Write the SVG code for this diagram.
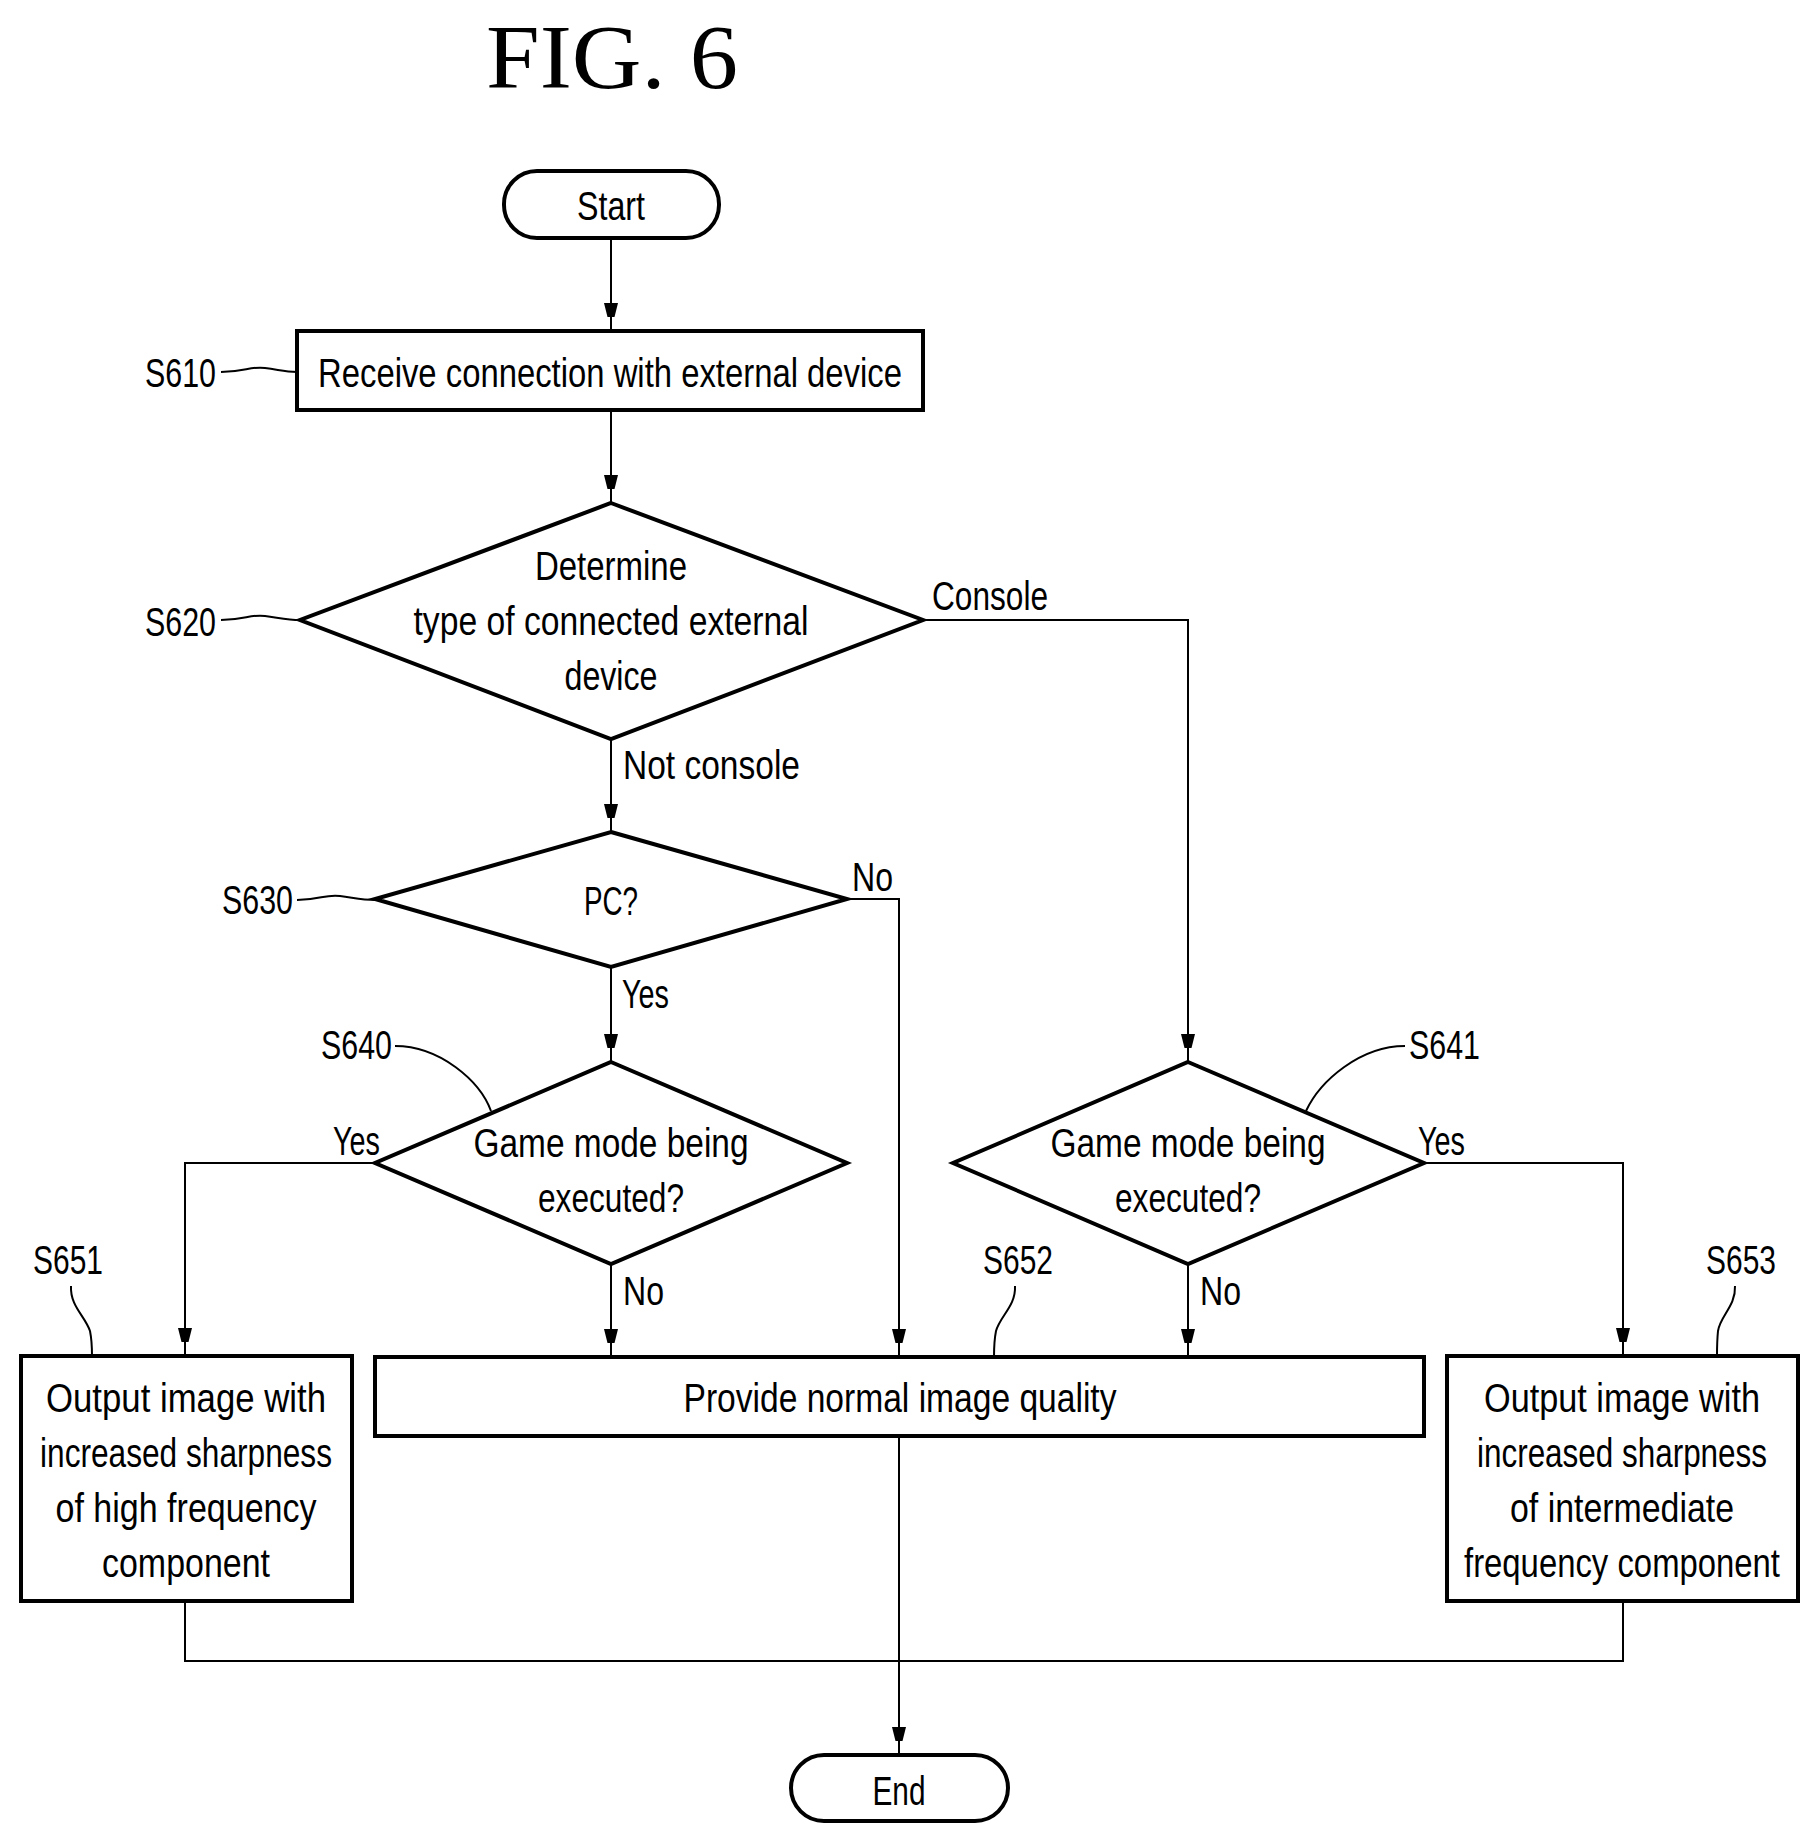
<svg xmlns="http://www.w3.org/2000/svg" width="1819" height="1848" viewBox="0 0 1819 1848">
<style>
.t{font-family:"Liberation Sans",sans-serif;font-size:40px;fill:#000;text-anchor:middle}
.l{font-family:"Liberation Sans",sans-serif;font-size:40px;fill:#000}
.b{fill:#fff;stroke:#000;stroke-width:4}
.c{fill:none;stroke:#000;stroke-width:2}
</style>
<defs><marker id="m" markerWidth="14" markerHeight="28" refX="28" refY="7" orient="auto" markerUnits="userSpaceOnUse"><path d="M0,0 L28,7 L0,14 Z" fill="#000"/></marker></defs>
<text x="612" y="88" style="font-family:'Liberation Serif',serif;font-size:90px" text-anchor="middle" textLength="252" lengthAdjust="spacingAndGlyphs">FIG. 6</text>
<g transform="translate(0,6)">
<g id="connectors">
<path class="c" d="M611,232 V325" marker-end="url(#m)"/>
<path class="c" d="M611,404 V497" marker-end="url(#m)"/>
<path class="c" d="M611,733 V826" marker-end="url(#m)"/>
<path class="c" d="M923,614 H1188 V1056" marker-end="url(#m)"/>
<path class="c" d="M847,893 H899 V1351" marker-end="url(#m)"/>
<path class="c" d="M611,961 V1056" marker-end="url(#m)"/>
<path class="c" d="M375,1157 H185 V1350" marker-end="url(#m)"/>
<path class="c" d="M1424,1157 H1623 V1350" marker-end="url(#m)"/>
<path class="c" d="M611,1258 V1351" marker-end="url(#m)"/>
<path class="c" d="M1188,1258 V1351" marker-end="url(#m)"/>
<path class="c" d="M899,1430 V1749" marker-end="url(#m)"/>
<path class="c" d="M185,1595 V1655 H1623 V1595"/>
<text class="l" x="932" y="604" textLength="116" lengthAdjust="spacingAndGlyphs">Console</text>
<text class="l" x="623" y="773" textLength="177" lengthAdjust="spacingAndGlyphs">Not console</text>
<text class="l" x="852" y="885" textLength="41" lengthAdjust="spacingAndGlyphs">No</text>
<text class="l" x="622" y="1002" textLength="47" lengthAdjust="spacingAndGlyphs">Yes</text>
<text class="l" x="333" y="1149" textLength="47" lengthAdjust="spacingAndGlyphs">Yes</text>
<text class="l" x="623" y="1299" textLength="41" lengthAdjust="spacingAndGlyphs">No</text>
<text class="l" x="1418" y="1149" textLength="47" lengthAdjust="spacingAndGlyphs">Yes</text>
<text class="l" x="1200" y="1299" textLength="41" lengthAdjust="spacingAndGlyphs">No</text>
</g>
<g id="labels">
<text class="l" x="145" y="381" textLength="71" lengthAdjust="spacingAndGlyphs">S610</text>
<path class="c" d="M221,366 C245,366 250,360 265,362 C280,364 285,366 297,366"/>
<text class="l" x="145" y="630" textLength="71" lengthAdjust="spacingAndGlyphs">S620</text>
<path class="c" d="M221,614 C245,614 250,608 265,610 C280,612 288,614 300,614"/>
<text class="l" x="222" y="908" textLength="71" lengthAdjust="spacingAndGlyphs">S630</text>
<path class="c" d="M297,894 C320,894 325,888 340,890 C355,892 362,894 375,894"/>
<text class="l" x="321" y="1053" textLength="71" lengthAdjust="spacingAndGlyphs">S640</text>
<path class="c" d="M395,1040 C440,1040 480,1075 491,1105"/>
<text class="l" x="1409" y="1053" textLength="71" lengthAdjust="spacingAndGlyphs">S641</text>
<path class="c" d="M1405,1040 C1360,1040 1320,1075 1306,1105"/>
<text class="l" x="33" y="1268" textLength="70" lengthAdjust="spacingAndGlyphs">S651</text>
<path class="c" d="M71,1280 C70,1300 85,1310 90,1325 C92,1335 92,1345 92,1350"/>
<text class="l" x="983" y="1268" textLength="70" lengthAdjust="spacingAndGlyphs">S652</text>
<path class="c" d="M1015,1280 C1016,1300 1000,1310 996,1325 C994,1335 994,1345 994,1351"/>
<text class="l" x="1706" y="1268" textLength="70" lengthAdjust="spacingAndGlyphs">S653</text>
<path class="c" d="M1735,1280 C1736,1300 1720,1310 1718,1325 C1717,1335 1717,1345 1717,1350"/>
</g>
<g id="start"><rect class="b" x="504" y="165" width="215" height="67" rx="33"/><text class="t" x="611" y="214" textLength="68" lengthAdjust="spacingAndGlyphs">Start</text></g>
<g id="s610"><rect class="b" x="297" y="325" width="626" height="79"/><text class="t" x="610" y="381" textLength="584" lengthAdjust="spacingAndGlyphs">Receive connection with external device</text></g>
<g id="s620"><polygon class="b" points="611,497 923,614 611,733 300,614"/>
<text class="t" x="611" y="574" textLength="152" lengthAdjust="spacingAndGlyphs">Determine</text>
<text class="t" x="611" y="629" textLength="395" lengthAdjust="spacingAndGlyphs">type of connected external</text>
<text class="t" x="611" y="684" textLength="93" lengthAdjust="spacingAndGlyphs">device</text></g>
<g id="s630"><polygon class="b" points="611,826 847,893 611,961 375,893"/><text class="t" x="611" y="909" textLength="54" lengthAdjust="spacingAndGlyphs">PC?</text></g>
<g id="s640"><polygon class="b" points="611,1056 847,1157 611,1258 375,1157"/>
<text class="t" x="611" y="1151" textLength="275" lengthAdjust="spacingAndGlyphs">Game mode being</text>
<text class="t" x="611" y="1206" textLength="146" lengthAdjust="spacingAndGlyphs">executed?</text></g>
<g id="s641"><polygon class="b" points="1188,1056 1424,1157 1188,1258 953,1157"/>
<text class="t" x="1188" y="1151" textLength="275" lengthAdjust="spacingAndGlyphs">Game mode being</text>
<text class="t" x="1188" y="1206" textLength="146" lengthAdjust="spacingAndGlyphs">executed?</text></g>
<g id="s651"><rect class="b" x="21" y="1350" width="331" height="245"/>
<text class="t" x="186" y="1406" textLength="280" lengthAdjust="spacingAndGlyphs">Output image with</text>
<text class="t" x="186" y="1461" textLength="292" lengthAdjust="spacingAndGlyphs">increased sharpness</text>
<text class="t" x="186" y="1516" textLength="261" lengthAdjust="spacingAndGlyphs">of high frequency</text>
<text class="t" x="186" y="1571" textLength="168" lengthAdjust="spacingAndGlyphs">component</text></g>
<g id="s652"><rect class="b" x="375" y="1351" width="1049" height="79"/><text class="t" x="900" y="1406" textLength="433" lengthAdjust="spacingAndGlyphs">Provide normal image quality</text></g>
<g id="s653"><rect class="b" x="1447" y="1350" width="351" height="245"/>
<text class="t" x="1622" y="1406" textLength="276" lengthAdjust="spacingAndGlyphs">Output image with</text>
<text class="t" x="1622" y="1461" textLength="290" lengthAdjust="spacingAndGlyphs">increased sharpness</text>
<text class="t" x="1622" y="1516" textLength="224" lengthAdjust="spacingAndGlyphs">of intermediate</text>
<text class="t" x="1622" y="1571" textLength="316" lengthAdjust="spacingAndGlyphs">frequency component</text></g>
<g id="end"><rect class="b" x="791" y="1749" width="217" height="66" rx="33"/><text class="t" x="899" y="1799" textLength="53" lengthAdjust="spacingAndGlyphs">End</text></g>
</g>
</svg>
